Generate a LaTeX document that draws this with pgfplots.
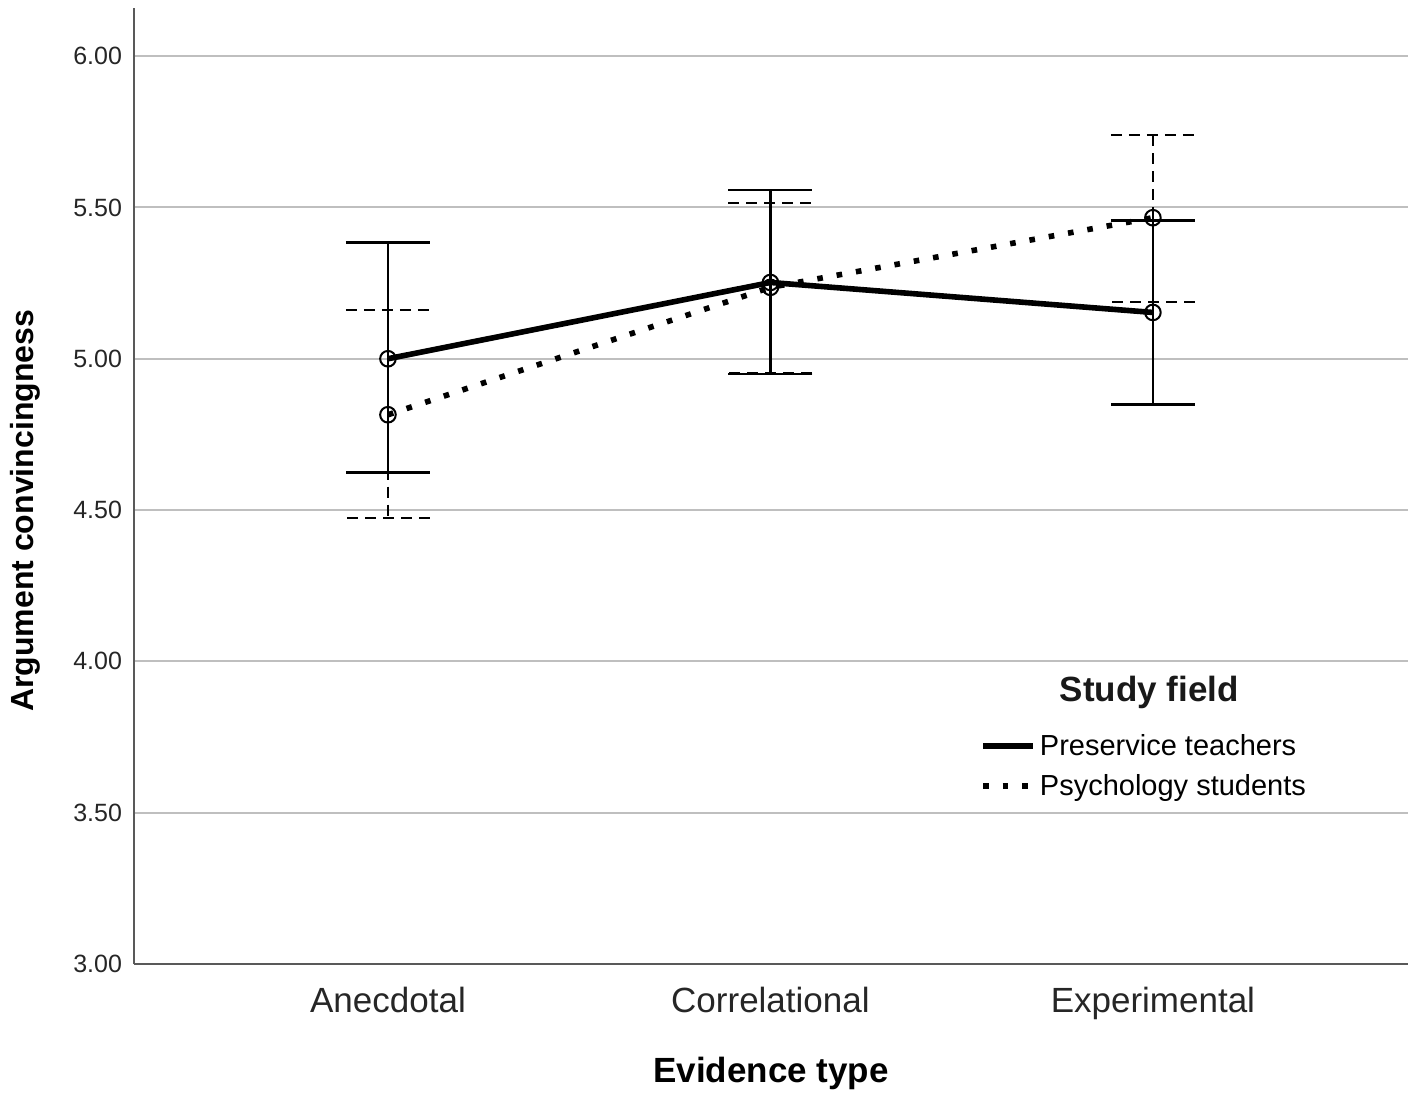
\documentclass[border=0pt]{standalone}
\usepackage{pgfplots}
\pgfplotsset{compat=1.18}
\usetikzlibrary{calc}
\usepackage{fontspec}
\setmainfont{Liberation Sans}
\begin{document}
\begin{tikzpicture}
\begin{axis}[
  scale only axis, width=637pt, height=478pt,
  xmin=-0.664, xmax=2.667, ymin=3, ymax=6.159,
  axis x line*=bottom, axis y line*=left,
  axis line style={-, draw=black!65, line width=1pt},
  xtick={0,1,2}, xticklabels={Anecdotal,Correlational,Experimental},
  ytick={3,3.5,4,4.5,5,5.5,6},
  /pgf/number format/fixed, /pgf/number format/fixed zerofill, /pgf/number format/precision=2,
  /pgf/number format/assume math mode=true,
  yticklabel style={font=\fontsize{12.5}{15}\selectfont, text=black!85, xshift=-2.5pt},
  xticklabel style={font=\fontsize{17.5}{21}\selectfont, text=black!85, yshift=-8pt},
  major tick length=0pt,
  ymajorgrids, grid style={line width=1pt, draw=black!25},
  xlabel={\textbf{Evidence type}}, ylabel={\textbf{Argument convincingness}},
  xlabel style={font=\fontsize{17.5}{21}\selectfont, at={(axis description cs:0.5,-0.114)}, anchor=center},
  ylabel style={font=\fontsize{16}{19}\selectfont, at={(axis description cs:-0.0856,0.474)}, anchor=center},
  legend style={at={(axis description cs:0.6640,0.245)}, anchor=north west, draw=none, fill=none,
    font=\fontsize{14.5}{17}\selectfont, row sep=4pt, inner sep=0pt, cells={anchor=west}},
  legend image code/.code={\draw[#1] (0pt,0pt) -- (25pt,0pt);},
]
\addplot[black, line width=2.8pt, mark=o, mark size=3.9pt, mark options={solid, line width=1pt, fill=none},
  error bars/.cd, y dir=both, y explicit,
  error bar style={line width=1.3pt, solid, black},
  error mark options={line width=1.3pt, solid, black, mark size=21pt, rotate=90}]
  table[x=x, y=y, y error plus=ep, y error minus=em] {
x y ep em
0 5.000 0.385 0.375
1 5.252 0.305 0.302
2 5.153 0.303 0.304
};
\addlegendentry{Preservice teachers}
\addplot[black, line width=2.8pt, dash pattern=on 2.8pt off 7pt, mark=o, mark size=3.9pt, mark options={solid, line width=1pt, fill=none},
  error bars/.cd, y dir=both, y explicit,
  error bar style={line width=1.3pt, black, dash pattern=on 5.5pt off 3.5pt},
  error mark options={line width=1.3pt, black, dash pattern=on 5.5pt off 3.5pt, mark size=21pt, rotate=90}]
  table[x=x, y=y, y error plus=ep, y error minus=em] {
x y ep em
0 4.815 0.346 0.341
1 5.236 0.278 0.283
2 5.466 0.273 0.279
};
\addlegendentry{Psychology students}
\node[font=\bfseries\fontsize{17.5}{21}\selectfont, text=black!90] at (axis description cs:0.797,0.2845) {Study field};
\end{axis}
\path (current axis.south west) ++(-67pt,-68pt) rectangle ($(current axis.north east)+(5pt,4pt)$);
\end{tikzpicture}
\end{document}
